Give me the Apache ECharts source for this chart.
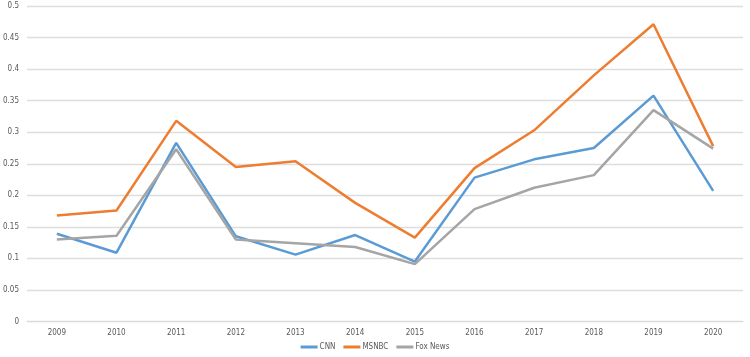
<!DOCTYPE html>
<html><head><meta charset="utf-8">
<script src="https://cdn.jsdelivr.net/npm/echarts@6/dist/echarts.min.js"></script>
<style>html,body{margin:0;padding:0;background:#fff}#c{width:750px;height:357px}</style>
</head><body><div id="c"></div>
<script>
var years = ['2009','2010','2011','2012','2013','2014','2015','2016','2017','2018','2019','2020'];
var cnn = [0.139, 0.109, 0.283, 0.135, 0.106, 0.137, 0.095, 0.228, 0.257, 0.275, 0.358, 0.207];
var msnbc = [0.168, 0.176, 0.318, 0.245, 0.254, 0.188, 0.133, 0.243, 0.303, 0.390, 0.471, 0.278];
var fox = [0.130, 0.136, 0.273, 0.130, 0.124, 0.118, 0.091, 0.178, 0.212, 0.232, 0.335, 0.274];
var chart = echarts.init(document.getElementById('c'));
function s(name, data, color){
  return {name:name, type:'line', data:data, symbol:'none', smooth:false,
    lineStyle:{width:2.5, color:color}, itemStyle:{color:color}};
}
chart.setOption({
  animation:false,
  textStyle:{fontFamily:'Liberation Sans Narrow, DejaVu Sans Condensed, Arial, sans-serif'},
  grid:{left:23, right:7, top:6, bottom:35.5, containLabel:false},
  legend:{bottom:1, left:'center', itemWidth:17, itemHeight:3, itemGap:8,
    icon:'rect', textStyle:{fontSize:8, color:'#595959', padding:[0,0,0,-3]},
    data:['CNN','MSNBC','Fox News']},
  xAxis:{type:'category', data:years, boundaryGap:true,
    axisLine:{lineStyle:{color:'#D9D9D9'}}, axisTick:{show:false},
    axisLabel:{fontSize:8, color:'#595959', margin:7}},
  yAxis:{type:'value', min:0, max:0.5, interval:0.05,
    axisLine:{show:false}, axisTick:{show:false},
    splitLine:{lineStyle:{color:'#DDDDDD', width:1.3}},
    axisLabel:{fontSize:8, color:'#595959', margin:8,
      formatter:function(v){return String(+v.toFixed(2));}}},
  series:[s('CNN',cnn,'#5B9BD5'), s('MSNBC',msnbc,'#ED7D31'), s('Fox News',fox,'#A5A5A5')]
});
</script></body></html>
